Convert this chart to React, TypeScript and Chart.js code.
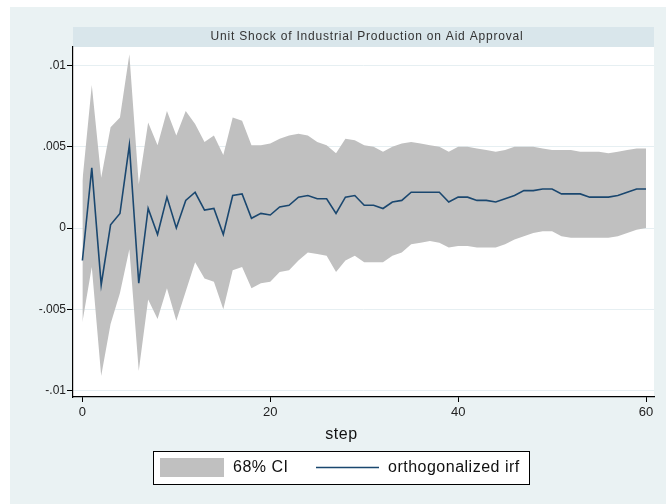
import React, { useEffect, useRef } from "react";
import { Chart, registerables } from "chart.js";

Chart.register(...registerables);

const steps: number[] = Array.from({ length: 61 }, (_, i) => i);

const irf: number[] = [
  -0.0020, 0.0037, -0.0035, 0.0002, 0.0009, 0.0051, -0.0034, 0.0012, -0.0004, 0.0019,
  0.0000, 0.0017, 0.0022, 0.0011, 0.0012, -0.0004, 0.0020, 0.0021, 0.0006, 0.0009,
  0.0008, 0.0013, 0.0014, 0.0019, 0.0020, 0.0018, 0.0018, 0.0009, 0.0019, 0.0020,
  0.0014, 0.0014, 0.0012, 0.0016, 0.0017, 0.0022, 0.0022, 0.0022, 0.0022, 0.0016,
  0.0019, 0.0019, 0.0017, 0.0017, 0.0016, 0.0018, 0.0020, 0.0023, 0.0023, 0.0024,
  0.0024, 0.0021, 0.0021, 0.0021, 0.0019, 0.0019, 0.0019, 0.0020, 0.0022, 0.0024,
  0.0024,
];

const upper: number[] = [
  0.0029, 0.0088, 0.0031, 0.0062, 0.0068, 0.0107, 0.0027, 0.0065, 0.0051, 0.0072,
  0.0057, 0.0072, 0.0064, 0.0053, 0.0057, 0.0045, 0.0068, 0.0066, 0.0051, 0.0051,
  0.0052, 0.0055, 0.0057, 0.0058, 0.0057, 0.0053, 0.0051, 0.0046, 0.0055, 0.0054,
  0.0051, 0.0050, 0.0047, 0.0050, 0.0052, 0.0053, 0.0052, 0.0051, 0.0050, 0.0047,
  0.0050, 0.0050, 0.0049, 0.0048, 0.0047, 0.0048, 0.0050, 0.0050, 0.0050, 0.0049,
  0.0048, 0.0048, 0.0048, 0.0047, 0.0047, 0.0047, 0.0046, 0.0047, 0.0048, 0.0049,
  0.0049,
];

const lower: number[] = [
  -0.0058, -0.0024, -0.0091, -0.0059, -0.0040, -0.0013, -0.0088, -0.0044, -0.0056, -0.0037,
  -0.0057, -0.0039, -0.0021, -0.0031, -0.0033, -0.0050, -0.0026, -0.0024, -0.0037, -0.0034,
  -0.0033, -0.0027, -0.0026, -0.0020, -0.0015, -0.0016, -0.0017, -0.0027, -0.0020, -0.0017,
  -0.0021, -0.0021, -0.0021, -0.0017, -0.0015, -0.0010, -0.0009, -0.0008, -0.0009, -0.0012,
  -0.0011, -0.0011, -0.0012, -0.0012, -0.0012, -0.0010, -0.0007, -0.0005, -0.0003, -0.0002,
  -0.0002, -0.0005, -0.0006, -0.0006, -0.0006, -0.0006, -0.0006, -0.0005, -0.0003, -0.0001,
  0.0000,
];

const yTicks: number[] = [-0.01, -0.005, 0, 0.005, 0.01];
const yTickLabels: string[] = ["-.01", "-.005", "0", ".005", ".01"];
const xTicks: number[] = [0, 20, 40, 60];

const titleText = "Unit Shock of Industrial Production on Aid Approval";
const xTitle = "step";
const ciLabel = "68% CI";
const irfLabel = "orthogonalized irf";

const FONT = "'Liberation Sans', Arial, sans-serif";
const NAVY = "#1a476f";
const BAND = "#c0c0c0";

const decorPlugin = {
  id: "decor",
  beforeDraw(chart: any) {
    const ctx = chart.ctx;
    const ca = chart.chartArea;
    ctx.save();
    ctx.fillStyle = "#ffffff";
    ctx.fillRect(0, 0, chart.width, chart.height);
    ctx.fillStyle = "#eaf2f3";
    ctx.fillRect(10, 7, chart.width - 10, chart.height - 7);
    // title band
    ctx.fillStyle = "#d9e6eb";
    ctx.fillRect(ca.left, 27, ca.right - ca.left, ca.top - 27);
    // plot area
    ctx.fillStyle = "#ffffff";
    ctx.fillRect(ca.left, ca.top, ca.right - ca.left, ca.bottom - ca.top);
    ctx.fillStyle = "#333333";
    ctx.font = `12px ${FONT}`;
    (ctx as any).letterSpacing = "0.8px";
    ctx.textAlign = "center";
    ctx.textBaseline = "middle";
    ctx.fillText(titleText, 367, 37);
    ctx.restore();
  },
  afterDraw(chart: any) {
    const ctx = chart.ctx;
    ctx.save();
    const cx = 341.5;
    ctx.fillStyle = "#111111";
    ctx.font = `16px ${FONT}`;
    (ctx as any).letterSpacing = "0.6px";
    ctx.textAlign = "center";
    ctx.textBaseline = "middle";
    ctx.fillText(xTitle, cx, 435);
    // legend
    const lx = 153.5, ly = 451.5, lw = 376, lh = 33;
    ctx.fillStyle = "#ffffff";
    ctx.fillRect(lx, ly, lw, lh);
    ctx.strokeStyle = "#000000";
    ctx.lineWidth = 1;
    ctx.strokeRect(lx, ly, lw, lh);
    ctx.fillStyle = BAND;
    ctx.fillRect(160, 458, 64, 19);
    ctx.fillStyle = "#111111";
    ctx.font = `16px ${FONT}`;
    (ctx as any).letterSpacing = "0.5px";
    ctx.textAlign = "left";
    ctx.fillText(ciLabel, 233, 468);
    ctx.strokeStyle = NAVY;
    ctx.lineWidth = 1.5;
    ctx.beginPath();
    ctx.moveTo(316, 467.5);
    ctx.lineTo(379, 467.5);
    ctx.stroke();
    ctx.fillText(irfLabel, 388, 468);
    ctx.restore();
  },
};

export default function App() {
  const ref = useRef<HTMLCanvasElement | null>(null);

  useEffect(() => {
    document.body.style.margin = "0";
    if (!ref.current) return;
    const chart = new Chart(ref.current, {
      type: "line",
      data: {
        labels: steps,
        datasets: [
          {
            label: irfLabel,
            data: steps.map((s, i) => ({ x: s, y: irf[i] })),
            borderColor: NAVY,
            borderWidth: 1.6,
            pointRadius: 0,
            fill: false,
            tension: 0,
            order: 0,
          },
          {
            label: "lower",
            data: steps.map((s, i) => ({ x: s, y: lower[i] })),
            borderColor: "rgba(0,0,0,0)",
            borderWidth: 0,
            pointRadius: 0,
            fill: false,
            tension: 0,
            order: 2,
          },
          {
            label: ciLabel,
            data: steps.map((s, i) => ({ x: s, y: upper[i] })),
            borderColor: "rgba(0,0,0,0)",
            backgroundColor: BAND,
            borderWidth: 0,
            pointRadius: 0,
            fill: "-1",
            tension: 0,
            order: 1,
          },
        ],
      },
      options: {
        animation: false,
        responsive: false,
        maintainAspectRatio: false,
        layout: { padding: { left: 0, right: 12, top: 47, bottom: 0 } },
        plugins: {
          legend: { display: false },
          title: { display: false },
          tooltip: { enabled: false },
        },
        scales: {
          x: {
            type: "linear",
            min: -1,
            max: 60.85,
            afterBuildTicks: (scale: any) => {
              scale.ticks = xTicks.map((v) => ({ value: v }));
            },
            afterFit: (scale: any) => {
              scale.height = 107;
            },
            grid: {
              drawOnChartArea: false,
              drawTicks: true,
              tickLength: 5,
              tickColor: "#000000",
              tickWidth: 1,
            },
            border: { display: true, color: "#000000", width: 1.2 },
            ticks: {
              color: "#222222",
              font: { family: FONT, size: 13 },
              padding: 3,
              maxRotation: 0,
              autoSkip: false,
              callback: (v: any) => String(v),
            },
          },
          y: {
            type: "linear",
            min: -0.0104,
            max: 0.01114,
            afterBuildTicks: (scale: any) => {
              scale.ticks = yTicks.map((v) => ({ value: v }));
            },
            afterFit: (scale: any) => {
              scale.width = 73;
            },
            grid: {
              color: "#e6eff2",
              lineWidth: 1,
              drawTicks: true,
              tickLength: 6,
              tickColor: "#000000",
              tickWidth: 1,
            },
            border: { display: true, color: "#000000", width: 1.2 },
            ticks: {
              color: "#222222",
              font: { family: FONT, size: 12 },
              padding: 1,
              autoSkip: false,
              callback: (v: any) => {
                const idx = yTicks.findIndex((t) => Math.abs(t - Number(v)) < 1e-9);
                return idx >= 0 ? yTickLabels[idx] : "";
              },
            },
          },
        },
      },
      plugins: [decorPlugin],
    } as any);
    return () => chart.destroy();
  }, []);

  return (
    <div style={{ width: 666, height: 504 }}>
      <canvas ref={ref} width={666} height={504} style={{ display: "block" }} />
    </div>
  );
}
